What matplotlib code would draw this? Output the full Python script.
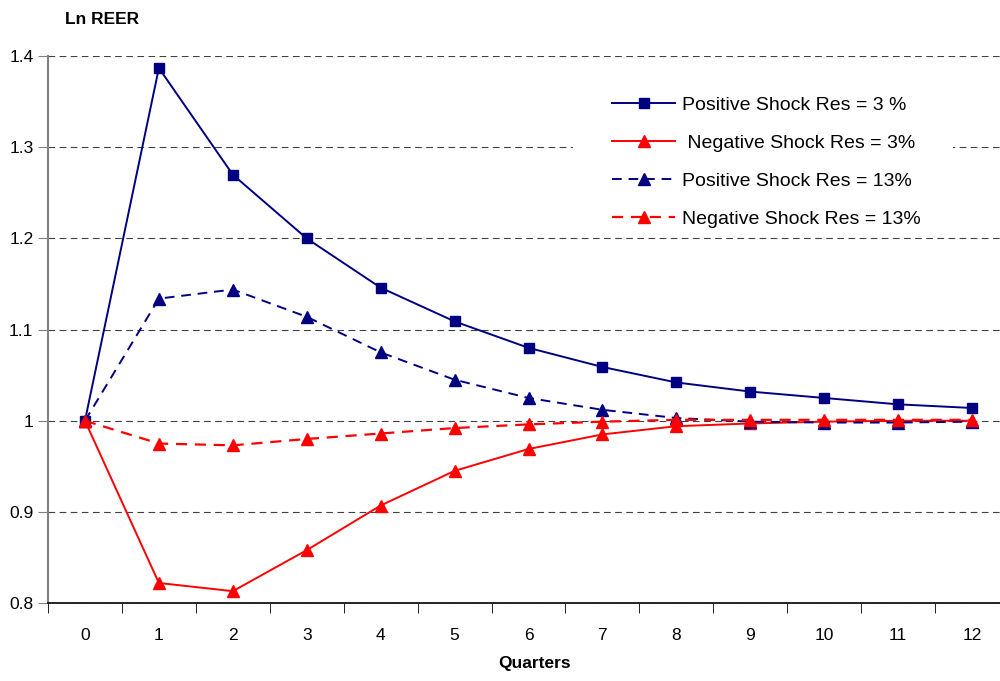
import matplotlib
matplotlib.use("Agg")
import matplotlib.pyplot as plt
from matplotlib.patches import Rectangle

plt.rcParams['font.family'] = ['Liberation Sans', 'DejaVu Sans']

quarters = list(range(13))
pos_3 = [1.0, 1.387, 1.270, 1.200, 1.146, 1.109, 1.080, 1.059, 1.042, 1.032, 1.025, 1.018, 1.014]
neg_3 = [1.0, 0.822, 0.813, 0.858, 0.907, 0.945, 0.969, 0.985, 0.994, 0.997, 0.999, 1.000, 1.000]
pos_13 = [1.0, 1.134, 1.144, 1.114, 1.075, 1.045, 1.025, 1.012, 1.003, 0.999, 0.998, 0.998, 0.999]
neg_13 = [1.0, 0.975, 0.973, 0.980, 0.986, 0.992, 0.996, 0.999, 1.001, 1.001, 1.001, 1.001, 1.001]

y_ticks = [0.8, 0.9, 1.0, 1.1, 1.2, 1.3, 1.4]
y_labels = ['0.8', '0.9', '1', '1.1', '1.2', '1.3', '1.4']

navy = '#000080'
red = '#FF0000'

fig = plt.figure(figsize=(10, 6.81), dpi=100)
ax = fig.add_axes([0.048, 0.1145, 0.961, 0.803])

ax.plot(quarters, pos_3, color=navy, lw=1.4, marker='s', ms=7, label='Positive Shock Res = 3 %', zorder=3)
ax.plot(quarters, neg_3, color=red, lw=1.4, marker='^', ms=8, label=' Negative Shock Res = 3%', zorder=3)
ax.plot(quarters, pos_13, color=navy, lw=1.4, ls=(0, (5, 3.5)), marker='^', ms=8,
        label='Positive Shock Res = 13%', zorder=3)
ax.plot(quarters, neg_13, color=red, lw=1.6, ls=(0, (5, 3.5)), marker='^', ms=8,
        label='Negative Shock Res = 13%', zorder=3)

ax.set_xlim(-0.5, 12.5)
ax.set_ylim(0.8, 1.4)
ax.set_yticks(y_ticks)
ax.set_yticklabels(y_labels)
ax.set_xticks(quarters)
ax.set_xticks([q - 0.5 for q in quarters] + [12.5], minor=True)
ax.tick_params(axis='x', which='major', length=0, labelsize=12.5, pad=18)
ax.tick_params(axis='x', which='minor', length=7, direction='out', color='black')
ax.tick_params(axis='y', length=7, direction='out', color='#808080', labelsize=12.5)

ax.grid(axis='y', color='#404040', ls=(0, (6, 4)), lw=0.8)
ax.set_axisbelow(True)
for s in ['top', 'right']:
    ax.spines[s].set_visible(False)
ax.spines['left'].set_color('#808080')
ax.spines['left'].set_linewidth(1.5)
ax.spines['bottom'].set_color('black')
ax.spines['bottom'].set_linewidth(1.2)

# white legend area (covers the 1.3 gridline like the original)
ax.add_patch(Rectangle((0.546, 0.685), 0.396, 0.27, transform=ax.transAxes,
                       facecolor='white', edgecolor='none', zorder=1))
leg = ax.legend(loc='upper left', bbox_to_anchor=(0.587, 0.926), frameon=False, fontsize=14,
                handlelength=3.25, handletextpad=0.35, labelspacing=1.04,
                borderpad=0, borderaxespad=0)

fig.text(0.065, 0.972, 'Ln REER', fontsize=12.5, fontweight='bold', va='center', ha='left')
fig.text(0.535, 0.026, 'Quarters', fontsize=12.5, fontweight='bold', va='center', ha='center')

fig.savefig('out.png', dpi=100)
